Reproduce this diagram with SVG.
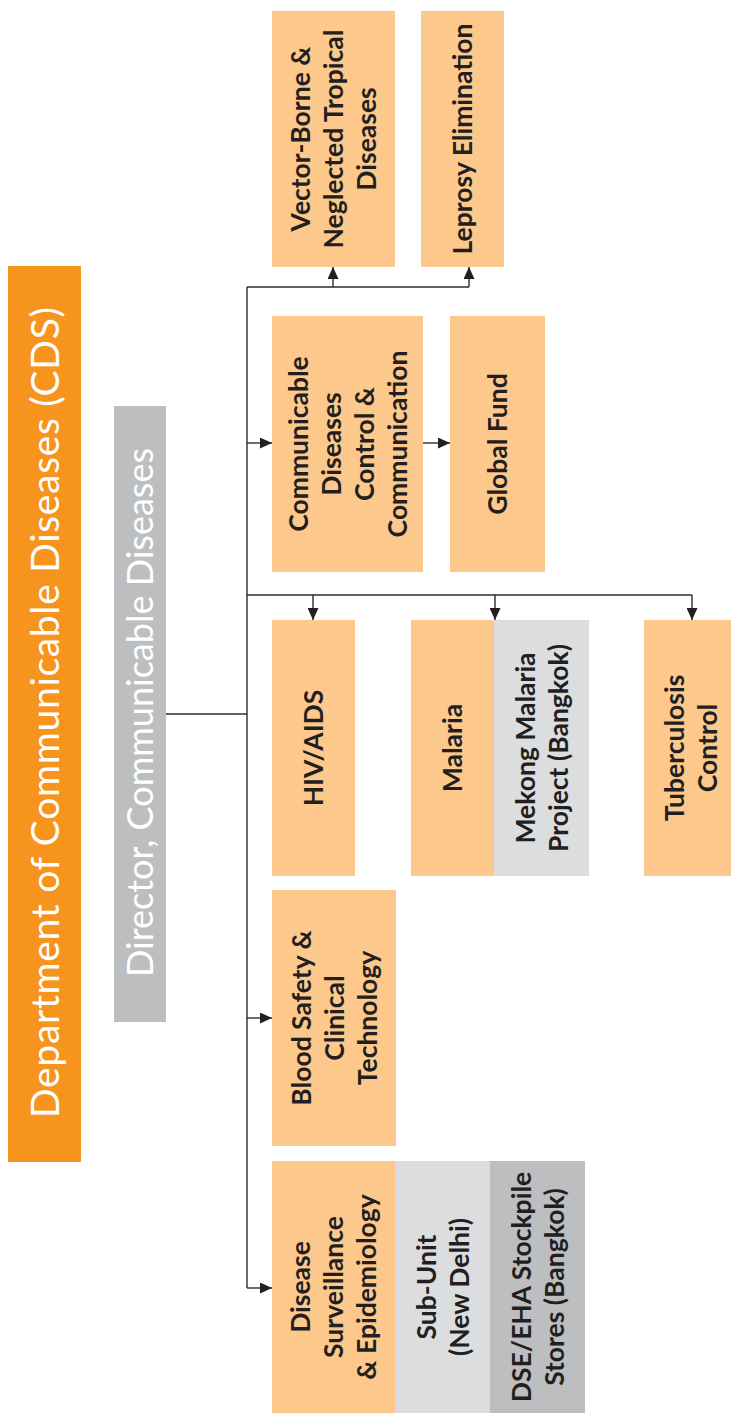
<svg xmlns="http://www.w3.org/2000/svg" width="731" height="1413" viewBox="0 0 731 1413">
<style>
.box{fill:#fcc88b}
.lg{fill:#dcdddf}
.dg{fill:#bcbec0}
.t{font-family:Lato,"Open Sans",sans-serif;font-weight:700;font-size:26.5px;fill:#231f20;text-anchor:middle}
.h{font-family:Lato,"Open Sans",sans-serif;font-weight:400;fill:#ffffff;text-anchor:middle}
.c{fill:none;stroke:#2b2b2b;stroke-width:1.4}
</style>
<defs>
<marker id="ah" markerUnits="userSpaceOnUse" markerWidth="12" markerHeight="11" refX="12" refY="5.5" orient="auto">
<path d="M0,0 L12,5.5 L0,11 z" fill="#231f20"/>
</marker>
</defs>
<g id="cds">
<rect x="8" y="266" width="73" height="896" fill="#f7941d"/>
<text class="h" font-size="39" textLength="811" lengthAdjust="spacing" transform="translate(44.5,712.5) rotate(-90)" y="14">Department of Communicable Diseases (CDS)</text>
</g>
<g id="director">
<rect x="114" y="406" width="52" height="616" fill="#bcbec0"/>
<text class="h" font-size="36" textLength="529" lengthAdjust="spacing" transform="translate(140,712.5) rotate(-90)" y="13">Director, Communicable Diseases</text>
</g>
<g id="connectors">
<path class="c" d="M166,714 H247"/>
<path class="c" d="M247,287 V1288"/>
<path class="c" d="M247,287 H469"/>
<path class="c" d="M333,287 V267" marker-end="url(#ah)"/>
<path class="c" d="M469,287 V267" marker-end="url(#ah)"/>
<path class="c" d="M247,443 H272" marker-end="url(#ah)"/>
<path class="c" d="M423,443 H450" marker-end="url(#ah)"/>
<path class="c" d="M247,595 H692"/>
<path class="c" d="M313,595 V620" marker-end="url(#ah)"/>
<path class="c" d="M495,595 V620" marker-end="url(#ah)"/>
<path class="c" d="M692,595 V620" marker-end="url(#ah)"/>
<path class="c" d="M247,1018 H272" marker-end="url(#ah)"/>
<path class="c" d="M247,1288 H272" marker-end="url(#ah)"/>
</g>
<g id="vector-borne">
<rect class="box" x="272" y="11" width="123" height="256"/>
<text class="t" transform="translate(333.5,139) rotate(-90)"><tspan x="0" y="-23.5">Vector-Borne &amp;</tspan><tspan x="0" y="9.5">Neglected Tropical</tspan><tspan x="0" y="42.5">Diseases</tspan></text>
</g>
<g id="leprosy">
<rect class="box" x="421" y="11" width="83" height="256"/>
<text class="t" transform="translate(462.5,139) rotate(-90)"><tspan x="0" y="9.5">Leprosy Elimination</tspan></text>
</g>
<g id="cdcc">
<rect class="box" x="272" y="316" width="151" height="256"/>
<text class="t" transform="translate(347.5,444) rotate(-90)"><tspan x="0" y="-40">Communicable</tspan><tspan x="0" y="-7">Diseases</tspan><tspan x="0" y="26">Control &amp;</tspan><tspan x="0" y="59">Communication</tspan></text>
</g>
<g id="global-fund">
<rect class="box" x="450" y="316" width="95" height="256"/>
<text class="t" transform="translate(497.5,444) rotate(-90)"><tspan x="0" y="9.5">Global Fund</tspan></text>
</g>
<g id="hiv">
<rect class="box" x="272" y="620" width="83" height="256"/>
<text class="t" transform="translate(313.5,748) rotate(-90)"><tspan x="0" y="9.5">HIV/AIDS</tspan></text>
</g>
<g id="malaria">
<rect class="box" x="411" y="620" width="83" height="256"/>
<text class="t" transform="translate(452.5,748) rotate(-90)"><tspan x="0" y="9.5">Malaria</tspan></text>
</g>
<g id="mekong">
<rect class="lg" x="494" y="620" width="95" height="256"/>
<text class="t" transform="translate(541.5,748) rotate(-90)"><tspan x="0" y="-7">Mekong Malaria</tspan><tspan x="0" y="26">Project (Bangkok)</tspan></text>
</g>
<g id="tuberculosis">
<rect class="box" x="644" y="620" width="94" height="256"/>
<text class="t" transform="translate(691,748) rotate(-90)"><tspan x="0" y="-7">Tuberculosis</tspan><tspan x="0" y="26">Control</tspan></text>
</g>
<g id="blood-safety">
<rect class="box" x="272" y="890" width="124" height="256"/>
<text class="t" transform="translate(334,1018) rotate(-90)"><tspan x="0" y="-23.5">Blood Safety &amp;</tspan><tspan x="0" y="9.5">Clinical</tspan><tspan x="0" y="42.5">Technology</tspan></text>
</g>
<g id="disease-surveillance">
<rect class="box" x="272" y="1161" width="123" height="252"/>
<text class="t" transform="translate(333.5,1287) rotate(-90)"><tspan x="0" y="-23.5">Disease</tspan><tspan x="0" y="9.5">Surveillance</tspan><tspan x="0" y="42.5">&amp; Epidemiology</tspan></text>
</g>
<g id="sub-unit">
<rect class="lg" x="395" y="1161" width="95" height="252"/>
<text class="t" transform="translate(442.5,1287) rotate(-90)"><tspan x="0" y="-7">Sub-Unit</tspan><tspan x="0" y="26">(New Delhi)</tspan></text>
</g>
<g id="dse-eha">
<rect class="dg" x="490" y="1161" width="95" height="252"/>
<text class="t" transform="translate(537.5,1287) rotate(-90)"><tspan x="0" y="-7">DSE/EHA Stockpile</tspan><tspan x="0" y="26">Stores (Bangkok)</tspan></text>
</g>
</svg>
